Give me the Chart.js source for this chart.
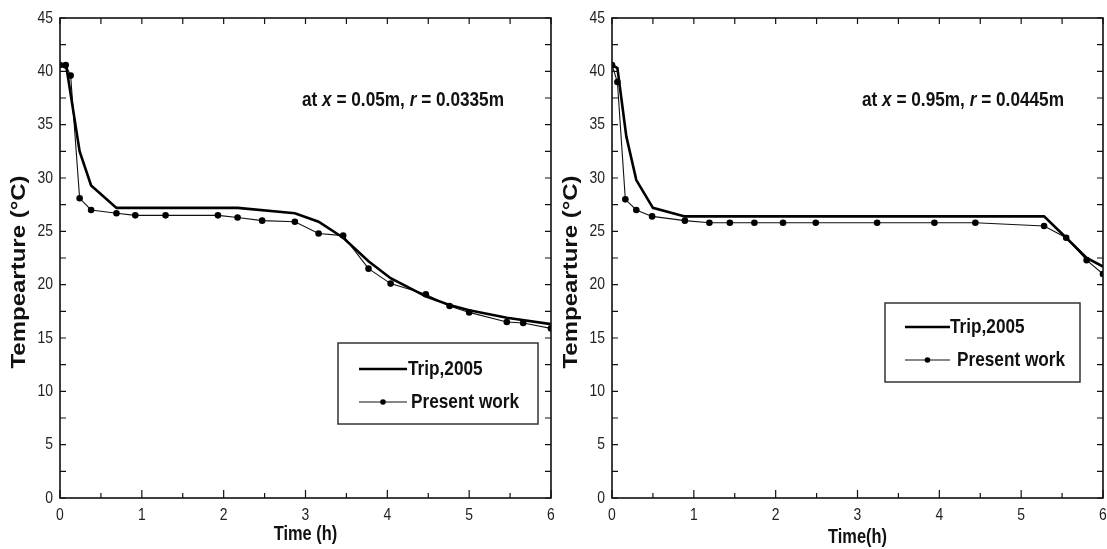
<!DOCTYPE html>
<html>
<head>
<meta charset="utf-8">
<script src="https://cdn.jsdelivr.net/npm/chart.js@4.4.1/dist/chart.umd.min.js"></script>
<style>
html, body { margin: 0; padding: 0; background: #fff; }
#wrap { position: relative; width: 1107px; height: 549px; overflow: hidden; }
canvas { position: absolute; top: 0; }
</style>
</head>
<body>
<div id="wrap">
	<canvas id="chart-left" width="555" height="549" style="left:0px"></canvas>
	<canvas id="chart-right" width="552" height="549" style="left:555px"></canvas>
</div>
<script>
var FONT = "'Liberation Sans', Arial, sans-serif";
var SQUEEZE = 0.82;   // the source figure is squashed sideways

// tick labels
var x_ticks = [0, 1, 2, 3, 4, 5, 6];
var y_ticks = [0, 5, 10, 15, 20, 25, 30, 35, 40, 45];

// at x = 0.05m, r = 0.0335m
var trip_time_1 = [0, 0.08, 0.24, 0.38, 0.69, 2.17, 2.87, 3.16, 3.46, 3.77, 4.04, 4.47, 4.76, 5.0, 5.46, 6.0];
var trip_temp_1 = [40.6, 40.3, 32.5, 29.3, 27.2, 27.2, 26.7, 25.9, 24.4, 22.2, 20.6, 18.9, 18.1, 17.6, 16.9, 16.3];
var work_time_1 = [0, 0.07, 0.13, 0.24, 0.38, 0.69, 0.92, 1.29, 1.93, 2.17, 2.47, 2.87, 3.16, 3.46, 3.77, 4.04, 4.47, 4.76, 5.0, 5.46, 5.66, 6.0];
var work_temp_1 = [40.6, 40.6, 39.6, 28.1, 27.0, 26.7, 26.5, 26.5, 26.5, 26.3, 26.0, 25.9, 24.8, 24.6, 21.5, 20.1, 19.1, 18.0, 17.4, 16.5, 16.4, 15.9];

// at x = 0.95m, r = 0.0445m
var trip_time_2 = [0, 0.066, 0.175, 0.297, 0.5, 0.89, 5.28, 5.55, 5.80, 6.0];
var trip_temp_2 = [40.6, 40.3, 33.9, 29.8, 27.2, 26.4, 26.4, 24.4, 22.5, 21.7];
var work_time_2 = [0, 0.066, 0.163, 0.297, 0.49, 0.89, 1.19, 1.44, 1.74, 2.09, 2.49, 3.24, 3.94, 4.44, 5.28, 5.55, 5.80, 6.0];
var work_temp_2 = [40.6, 39.0, 28.0, 27.0, 26.4, 26.0, 25.8, 25.8, 25.8, 25.8, 25.8, 25.8, 25.8, 25.8, 25.5, 24.4, 22.3, 21.0];

function pairs(xs, ys) {
	return xs.map(function (x, i) { return {x: x, y: ys[i]}; });
}

// text squeezed horizontally, parts may be italic
function squeezed(ctx, parts, x, y, font, align, color) {
	ctx.save();
	ctx.translate(x, y);
	ctx.scale(SQUEEZE, 1);
	ctx.fillStyle = color || '#111';
	ctx.textBaseline = 'middle';
	var total = 0;
	parts.forEach(function (p) {
		ctx.font = (p.italic ? 'italic ' : '') + font;
		total += ctx.measureText(p.text).width;
	});
	var cx = align === 'center' ? -total / 2 : (align === 'right' ? -total : 0);
	parts.forEach(function (p) {
		ctx.font = (p.italic ? 'italic ' : '') + font;
		ctx.fillText(p.text, cx, 0);
		cx += ctx.measureText(p.text).width;
	});
	ctx.restore();
}

var decor = {
	id: 'decor',
	afterDatasetsDraw: function (chart, args, o) {
		var ctx = chart.ctx, a = chart.chartArea;
		var xs = chart.scales.x, ys = chart.scales.y;
		ctx.save();
		ctx.strokeStyle = '#111';
		ctx.lineWidth = 1.6;
		ctx.strokeRect(a.left, a.top, a.right - a.left, a.bottom - a.top);
		ctx.lineWidth = 1.2;
		ctx.beginPath();
		for (var t = 0; t <= 6.001; t += 0.5) {
			var px = xs.getPixelForValue(t);
			var len = (t % 1 === 0) ? 8 : 5;
			ctx.moveTo(px, a.bottom); ctx.lineTo(px, a.bottom - len);
			ctx.moveTo(px, a.top); ctx.lineTo(px, a.top + 6);
		}
		for (var v = 0; v <= 45; v += 2.5) {
			var py = ys.getPixelForValue(v);
			ctx.moveTo(a.left, py); ctx.lineTo(a.left + 6, py);
			ctx.moveTo(a.right, py); ctx.lineTo(a.right - 6, py);
		}
		ctx.stroke();
		ctx.restore();

		// tick labels from the scales
		xs.ticks.forEach(function (tk) {
			squeezed(ctx, [{text: String(tk.value)}], xs.getPixelForValue(tk.value), a.bottom + 17, '17px ' + FONT, 'center', '#222');
		});
		ys.ticks.forEach(function (tk) {
			squeezed(ctx, [{text: String(tk.value)}], a.left - 7, ys.getPixelForValue(tk.value), '17px ' + FONT, 'right', '#222');
		});

		// x title
		squeezed(ctx, [{text: o.xtitle}], (a.left + a.right) / 2, o.xtitleY, 'bold 20px ' + FONT, 'center');

		// annotation
		squeezed(ctx, o.note, o.noteX, o.noteY, 'bold 21px ' + FONT, 'left');

		// y title, stretched along its length
		ctx.save();
		ctx.translate(o.ytitleX, o.ytitleY);
		ctx.rotate(-Math.PI / 2);
		ctx.scale(1, SQUEEZE);
		ctx.font = 'bold 24px ' + FONT;
		ctx.fillStyle = '#111';
		ctx.textAlign = 'center';
		ctx.textBaseline = 'middle';
		ctx.fillText('Tempearture (\u00B0C)', 0, 0);
		ctx.restore();

		// legend
		var L = o.legend;
		ctx.save();
		ctx.fillStyle = '#fff';
		ctx.fillRect(L.x, L.y, L.w, L.h);
		ctx.strokeStyle = '#333';
		ctx.lineWidth = 1.5;
		ctx.strokeRect(L.x, L.y, L.w, L.h);
		chart.data.datasets.forEach(function (ds, i) {
			var ry = L.rows[i];
			ctx.strokeStyle = ds.borderColor;
			ctx.lineWidth = ds.borderWidth;
			ctx.beginPath();
			ctx.moveTo(L.x1, ry); ctx.lineTo(L.x2, ry);
			ctx.stroke();
			if (ds.pointRadius > 0) {
				ctx.fillStyle = '#000';
				ctx.beginPath();
				ctx.arc((L.x1 + L.x2) / 2, ry, ds.pointRadius - 0.5, 0, Math.PI * 2);
				ctx.fill();
			}
			squeezed(ctx, [{text: ds.label}], L.tx[i], ry, 'bold 21px ' + FONT, 'left');
		});
		ctx.restore();
	}
};

function make_chart(id, trip_t, trip_v, work_t, work_v, lay, extra) {
	var ctx = document.getElementById(id).getContext('2d');
	return new Chart(ctx, {
		type: 'line',
		data: {
			datasets: [{
				label: 'Trip,2005',
				data: pairs(trip_t, trip_v),
				borderColor: '#000',
				borderWidth: 2.6,
				pointRadius: 0,
				fill: false,
				tension: 0
			}, {
				label: 'Present work',
				data: pairs(work_t, work_v),
				borderColor: '#111',
				borderWidth: 1.1,
				pointRadius: 3.3,
				pointBackgroundColor: '#000',
				pointBorderWidth: 0,
				fill: false,
				tension: 0
			}]
		},
		options: {
			responsive: false,
			animation: false,
			devicePixelRatio: 1,
			layout: { padding: { top: 18, right: lay.right, left: 0, bottom: 0 } },
			plugins: {
				legend: { display: false },
				tooltip: { enabled: false },
				decor: extra
			},
			scales: {
				x: {
					type: 'linear',
					min: 0, max: 6,
					afterBuildTicks: function (s) { s.ticks = x_ticks.map(function (v) { return {value: v}; }); },
					ticks: { display: false },
					grid: { display: false, drawTicks: false },
					border: { display: false },
					afterFit: function (s) { s.height = 51; s.paddingLeft = 0; s.paddingRight = 0; }
				},
				y: {
					min: 0, max: 45,
					afterBuildTicks: function (s) { s.ticks = y_ticks.map(function (v) { return {value: v}; }); },
					ticks: { display: false },
					grid: { display: false, drawTicks: false },
					border: { display: false },
					afterFit: function (s) { s.width = lay.ywidth; s.paddingTop = 0; s.paddingBottom = 0; }
				}
			}
		},
		plugins: [decor]
	});
}

make_chart('chart-left', trip_time_1, trip_temp_1, work_time_1, work_temp_1,
	{ right: 3, ywidth: 60 },
	{
		xtitle: 'Time (h)', xtitleY: 534,
		note: [{text: 'at '}, {text: 'x', italic: true}, {text: ' = 0.05m, '}, {text: 'r', italic: true}, {text: ' = 0.0335m'}],
		noteX: 302, noteY: 100,
		ytitleX: 20, ytitleY: 272,
		legend: { x: 338, y: 343, w: 200, h: 81, x1: 359, x2: 407, tx: [408, 411], rows: [369, 402] }
	});

make_chart('chart-right', trip_time_2, trip_temp_2, work_time_2, work_temp_2,
	{ right: 2, ywidth: 57 },
	{
		xtitle: 'Time(h)', xtitleY: 537,
		note: [{text: 'at '}, {text: 'x', italic: true}, {text: ' = 0.95m, '}, {text: 'r', italic: true}, {text: ' = 0.0445m'}],
		noteX: 307, noteY: 100,
		ytitleX: 17, ytitleY: 272,
		legend: { x: 330, y: 303, w: 195, h: 79, x1: 350, x2: 395, tx: [395, 402], rows: [327, 360] }
	});
</script>
</body>
</html>
